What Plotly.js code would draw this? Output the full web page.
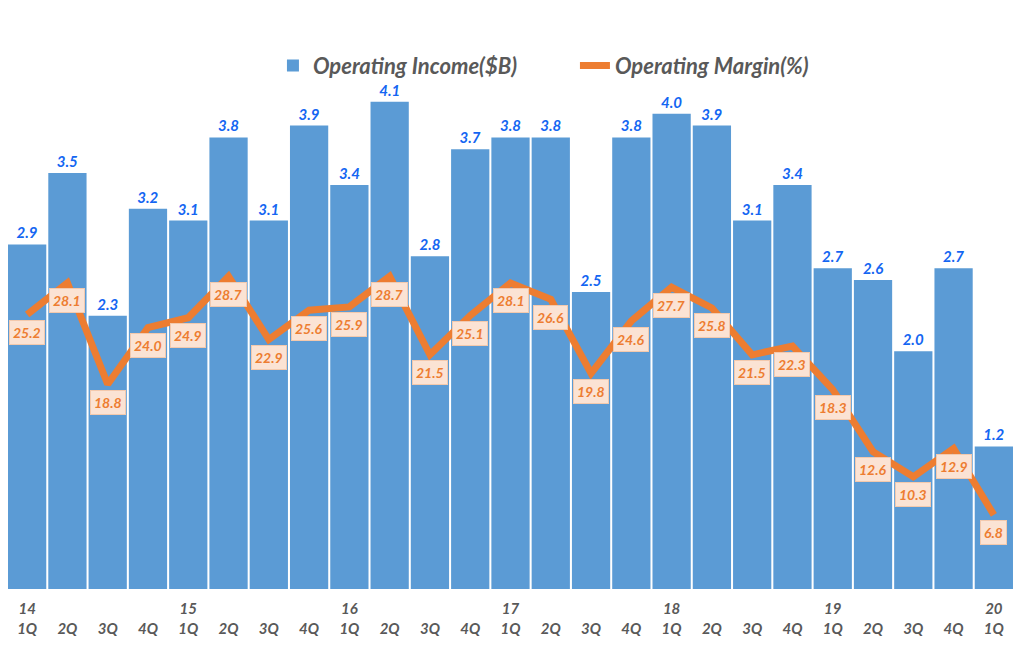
<!DOCTYPE html>
<html>
<head>
<meta charset="utf-8">
<script src="https://cdn.plot.ly/plotly-3.0.1.min.js"></script>
<style>html,body{margin:0;padding:0;background:#fff;}#chart{width:1024px;height:658px;}</style>
</head>
<body>
<div id="chart"></div>
<script>
var quarters = ["14<br>1Q"," <br>2Q"," <br>3Q"," <br>4Q","15<br>1Q"," <br>2Q"," <br>3Q"," <br>4Q","16<br>1Q"," <br>2Q"," <br>3Q"," <br>4Q","17<br>1Q"," <br>2Q"," <br>3Q"," <br>4Q","18<br>1Q"," <br>2Q"," <br>3Q"," <br>4Q","19<br>1Q"," <br>2Q"," <br>3Q"," <br>4Q","20<br>1Q"];
var operatingIncome = [2.9,3.5,2.3,3.2,3.1,3.8,3.1,3.9,3.4,4.1,2.8,3.7,3.8,3.8,2.5,3.8,4.0,3.9,3.1,3.4,2.7,2.6,2.0,2.7,1.2];
var operatingMargin = [25.2,28.1,18.8,24.0,24.9,28.7,22.9,25.6,25.9,28.7,21.5,25.1,28.1,26.6,19.8,24.6,27.7,25.8,21.5,22.3,18.3,12.6,10.3,12.9,6.8];

var idx = quarters.map(function(_, i){ return i; });
var fontFam = "Lato, 'Open Sans', 'DejaVu Sans', sans-serif";

var bars = {
  type: 'bar', name: 'Operating Income($B)',
  x: idx, y: operatingIncome,
  marker: {color: '#5b9bd5', line: {width: 0}},
  text: operatingIncome.map(function(v){ return v.toFixed(1); }),
  textposition: 'outside',
  textfont: {family: fontFam, size: 15, color: '#1466f2', weight: 'bold', style: 'italic'},
  cliponaxis: false,
  hoverinfo: 'skip'
};
var line = {
  type: 'scatter', mode: 'lines', name: 'Operating Margin(%)',
  x: idx, y: operatingMargin, yaxis: 'y2',
  line: {color: '#ed7d31', width: 7},
  hoverinfo: 'skip'
};

var annotations = operatingMargin.map(function(v, i){
  return {
    x: i, y: v, xref: 'x', yref: 'y2',
    text: v.toFixed(1), showarrow: false, yshift: -18,
    bgcolor: '#fbe3d4', bordercolor: '#f3c9ad', borderwidth: 1, borderpad: 3,
    font: {family: fontFam, size: 14, color: '#ed7d31', weight: 'bold', style: 'italic'}
  };
});

var layout = {
  width: 1024, height: 658,
  margin: {l: 7, r: 10, t: 40, b: 69},
  paper_bgcolor: '#ffffff', plot_bgcolor: '#ffffff',
  bargap: 0.05,
  showlegend: true,
  legend: {orientation: 'h', x: 0.564, xanchor: 'center', y: 0.953, yanchor: 'middle',
    entrywidth: 257, entrywidthmode: 'pixels',
    font: {family: fontFam, size: 22, color: '#595959', weight: 'bold', style: 'italic'},
    bgcolor: 'rgba(0,0,0,0)'},
  xaxis: {range: [-0.5, 24.5], tickvals: idx, ticktext: quarters, showgrid: false, zeroline: false,
    showline: false, ticks: '', fixedrange: true, ticklabelstandoff: 9,
    tickfont: {family: fontFam, size: 15, color: '#595959', weight: 'bold', style: 'italic'}},
  yaxis: {range: [0, 4.62], visible: false, showgrid: false, zeroline: false},
  yaxis2: {range: [0, 50.4], overlaying: 'y', side: 'right', visible: false, showgrid: false, zeroline: false},
  annotations: annotations
};

Plotly.newPlot('chart', [bars, line], layout, {displayModeBar: false, staticPlot: true});
</script>
</body>
</html>
